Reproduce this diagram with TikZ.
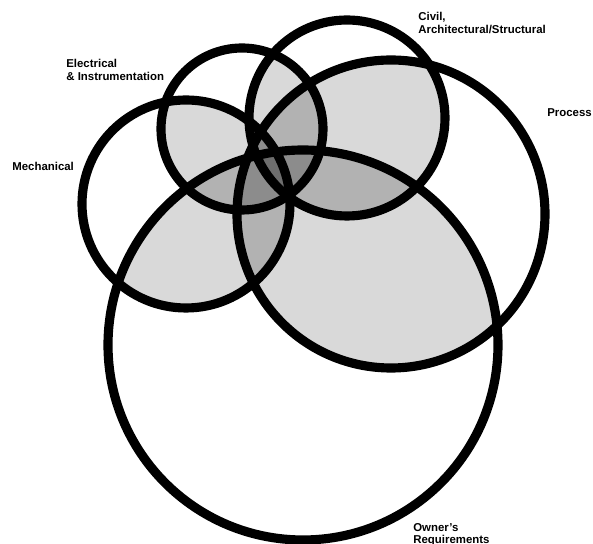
\documentclass[tikz,border=0pt]{standalone}
\usepackage{fontspec}
\setmainfont{Liberation Sans}

\begin{document}
\begin{tikzpicture}[
        x=0.02cm, y=0.02cm,
        every node/.style={font=\fontsize{6.5}{7.1}\selectfont\bfseries},
        kreis/.style={draw=black, line width=5.2pt},
        stufezwei/.style={fill=black!15},
        stufedrei/.style={fill=black!30},
        stufevier/.style={fill=black!45},
        stufefuenf/.style={fill=black!57},
        beschriftung/.style={inner sep=0pt, anchor=north west, align=left}
    ]
        \useasboundingbox (0,0) rectangle (593,544);
        \def\rmech{104}
        \def\relec{81}
        \def\rcivil{98}
        \def\rproc{154}
        \def\rowner{195}
        \coordinate (mech)  at (186,340);
        \coordinate (elec)  at (242,415);
        \coordinate (civil) at (347,426);
        \coordinate (proc)  at (391,330);
        \coordinate (owner) at (303,199);

        % je mehr Kreise, desto dunkler
        \foreach \a/\b in {mech/elec, mech/civil, mech/proc, mech/owner,
                elec/civil, elec/proc, elec/owner, civil/proc,
                civil/owner, proc/owner} {
            \begin{scope}
                \clip (\a) circle [radius=\csname r\a\endcsname];
                \fill[stufezwei] (\b) circle [radius=\csname r\b\endcsname];
            \end{scope}
        }
        \foreach \a/\b/\c in {mech/elec/civil, mech/elec/proc, mech/elec/owner,
                mech/civil/proc, mech/civil/owner, mech/proc/owner,
                elec/civil/proc, elec/civil/owner, elec/proc/owner,
                civil/proc/owner} {
            \begin{scope}
                \clip (\a) circle [radius=\csname r\a\endcsname];
                \clip (\b) circle [radius=\csname r\b\endcsname];
                \fill[stufedrei] (\c) circle [radius=\csname r\c\endcsname];
            \end{scope}
        }
        \foreach \a/\b/\c/\d in {elec/civil/proc/owner, mech/civil/proc/owner,
                mech/elec/proc/owner, mech/elec/civil/owner,
                mech/elec/civil/proc} {
            \begin{scope}
                \clip (\a) circle [radius=\csname r\a\endcsname];
                \clip (\b) circle [radius=\csname r\b\endcsname];
                \clip (\c) circle [radius=\csname r\c\endcsname];
                \fill[stufevier] (\d) circle [radius=\csname r\d\endcsname];
            \end{scope}
        }
        \begin{scope}
            \clip (mech) circle [radius=\rmech];
            \clip (elec) circle [radius=\relec];
            \clip (civil) circle [radius=\rcivil];
            \clip (proc) circle [radius=\rproc];
            \fill[stufefuenf] (owner) circle [radius=\rowner];
        \end{scope}

        \foreach \k in {mech, elec, civil, proc, owner}
            \draw[kreis] (\k) circle [radius=\csname r\k\endcsname];

        \node[beschriftung] (civiltext) at (418,532)
            {Civil,\\Architectural/Structural};
        \node[beschriftung] (electext) at (66,485)
            {Electrical\\\& Instrumentation};
        \node[beschriftung] (mechtext) at (12,382) {Mechanical};
        \node[beschriftung] (proctext) at (547,436) {Process};
        \node[beschriftung] (ownertext) at (413,21)
            {Owner's\\Requirements};
    \end{tikzpicture}
\end{document}
